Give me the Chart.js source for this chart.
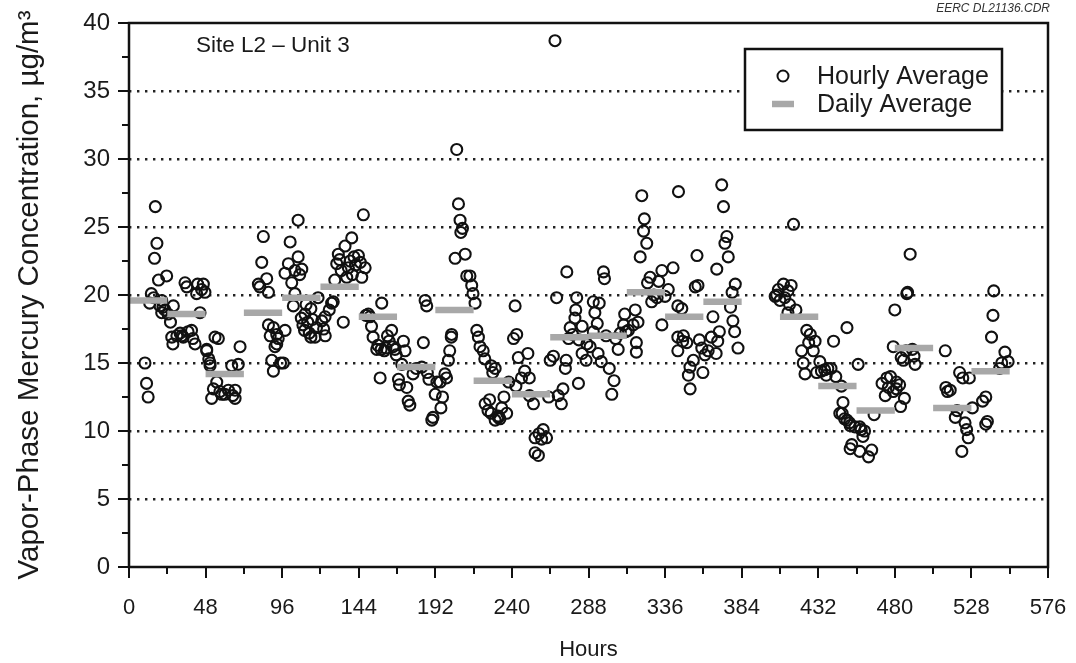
<!DOCTYPE html>
<html>
<head>
<meta charset="utf-8">
<script src="https://cdn.jsdelivr.net/npm/chart.js@4/dist/chart.umd.min.js"></script>
<style>
  html, body { margin: 0; padding: 0; background: #fff; }
  #wrap { width: 1076px; height: 663px; }
</style>
</head>
<body>
<div id="wrap"><canvas id="hgChart" width="1076" height="663"></canvas></div>
<script>
/* vapor-phase Hg, Site L2 - Unit 3: hourly points + daily average bars */

// hourly averages: [hour, µg/m³]
const hourly = [
  [10,15.0],[11,13.5],[12,12.5],[13,19.4],[14,20.1],[15.5,19.8],[16,22.7],[16.5,26.5],[17.5,23.8],[18.5,21.1],[19.5,19.2],[20.5,19.6],[21.3,19.1],[20.5,18.7],[22.5,18.9],[23.6,21.4],[24.5,18.6],[26,18.0],
  [26.8,16.9],[27.5,16.4],[27.8,19.2],[30,17.0],[32,17.2],[33,17.0],[34,16.9],[35.1,20.9],[36.2,20.6],[37,17.3],[39.2,17.4],[40,16.8],[41.4,16.4],[42.4,20.1],[43,20.8],[44.5,18.7],[45.5,20.4],[46.6,20.8],[47.6,20.2],[48.7,16.0],
  [48.7,15.9],[50,15.3],[50.8,15.0],[50.8,14.8],[51.8,12.4],[52.9,13.1],[53.9,16.9],[55,13.6],[56,16.8],[57,12.9],[58.1,12.7],[60,12.7],[62.3,13.0],[64.4,14.8],[65,12.6],[66.5,13.0],[66.5,12.4],[68.5,14.9],[69.6,16.2],
  [81.1,20.8],[82,20.6],[83.2,22.4],[84.2,24.3],[86.3,21.2],[87.4,20.2],[87.4,17.8],[88.5,17.0],[89.5,15.2],[90.5,14.4],[90.5,17.6],[91.5,16.2],[92.6,17.1],[92.6,16.4],[93.5,16.8],[95,15.0],[96.7,15.0],[97.8,17.4],
  [97.8,21.6],[99.9,22.3],[101,23.9],[102,20.9],[103,19.2],[104,21.8],[104,20.1],[106,25.5],[106,22.8],[107,21.5],[108.3,21.9],[108,18.3],[109,17.8],[110.3,18.6],[110,17.4],[111,19.3],[112,18.0],[113,17.2],[114,16.9],[114,19.0],[115,18.2],[116.6,16.9],[117.5,17.6],[118.5,19.8],
  [120.8,18.1],[122,17.5],[122.9,18.4],[123,17.0],[125.5,18.9],[127,19.4],[128,19.5],[129,21.1],[130.2,22.3],[131.2,23.0],[132,22.6],[133,21.8],[134.3,18.0],[135.4,23.6],[136.5,21.3],[137.5,22.0],[138.6,22.5],[139.6,24.2],[140,21.5],[141,22.8],[142,22.2],[143.8,22.9],[145,22.4],[145.9,21.3],[146.9,25.9],[148,22.0],
  [148.5,18.5],[150,18.6],[151,18.4],[152,17.7],[153,16.9],[155.3,16.0],[156,16.3],[157.4,13.9],[158,16.0],[158.4,19.4],[160,15.9],[161,16.1],[162,17.0],[163,16.6],[164.6,17.4],[165.5,16.2],[166.7,16.0],[167.5,15.6],
  [168.9,13.8],[169.5,13.4],[171,14.9],[172,16.6],[173,15.9],[174.1,13.2],[175,12.2],[176,11.9],[178,14.2],[180,14.6],[183.5,14.7],[184.5,16.5],[185.6,19.6],[186.6,19.2],[187,14.3],[188,13.8],[189.8,10.8],[190.5,11.0],[191.9,12.7],
  [193,13.6],[195,13.6],[195.5,11.7],[196.5,12.5],[198,14.2],[199,13.9],[200.2,15.2],[201,15.9],[202,16.9],[202.2,17.1],[204.4,22.7],[205.4,30.7],[206.5,26.7],[207.5,25.5],[208,24.6],[209,24.9],[210.7,23.0],[211.7,21.4],[213.7,21.4],[214.8,20.7],[215.6,20.1],[216.9,19.4],
  [218,17.4],[219,16.9],[220,16.2],[222,15.9],[223,15.3],[223.2,12.0],[225,11.5],[226,12.3],[227,14.8],[227,11.3],[228,14.3],[229.5,10.8],[229.5,14.6],[231.5,11.0],[231.5,11.1],[232.5,10.9],[233.6,11.7],[235,12.5],[236.7,11.3],[238,13.6],
  [241,16.8],[242,19.2],[242.5,13.3],[243,17.1],[244,15.4],[246,13.9],[248,14.4],[250,15.7],[250.9,13.9],[251,12.6],[253.5,12.0],[254.5,9.5],[254.5,8.4],[256.6,8.2],[257,9.8],[258.6,9.4],[259.6,10.1],[261.7,9.5],[263,12.5],
  [264,15.2],[266,15.5],[267,38.7],[268,19.8],[269,12.6],[271,12.0],[272,13.1],[273.5,14.6],[274,15.2],[274.4,21.7],[275.5,16.8],[276.5,17.6],[278,17.1],[279.5,18.3],[280,18.9],[280.6,19.8],[281.7,13.5],[282,16.7],[284,17.7],[284,15.7],[286.5,15.2],[287,16.4],
  [289,16.2],[291,17.3],[291,19.5],[292,18.7],[293.5,17.9],[294,15.7],[294.7,19.4],[296,15.1],[297.4,21.7],[298,21.2],[299,17.0],[301,14.6],[302.6,12.7],[304,13.7],[305,16.8],[306.6,16.0],[308,17.2],[310,17.8],[310.7,18.6],[311.5,17.3],
  [313,17.4],[316,17.8],[317.3,18.9],[318,16.5],[318,15.8],[319,18.0],[320.4,22.8],[321.4,27.3],[322.5,24.7],[323,25.6],[324.5,23.8],[325,20.9],[326.6,21.3],[327.6,19.5],[329,20.0],[331,19.8],[332,21.0],[334,21.8],[334,17.8],[336,19.9],
  [338,20.4],[341,22.0],[344,19.2],[344,16.9],[344,15.9],[344.4,27.6],[346.5,19.0],[347,16.6],[347.5,17.0],[349.6,16.5],[350.6,14.1],[351.6,14.7],[351.7,13.1],[353.7,15.2],[354.9,20.6],[356,22.9],[356.6,20.7],[357.5,16.7],[359,16.1],[359.7,14.3],
  [361,15.6],[363,15.9],[365,16.9],[366,18.4],[368,15.7],[368.4,21.9],[369,16.6],[370,17.3],[371.5,28.1],[372.6,26.5],[373.5,23.8],[374.7,24.3],[375.6,22.8],[377,19.1],[378,20.2],[378.5,18.1],[379.6,17.3],[380,20.8],[381.7,16.1],
  [405,19.9],[406,20.0],[407,20.4],[408,19.6],[410.2,20.8],[411,19.8],[413,20.3],[413,18.7],[414,19.3],[415,20.7],[416.5,25.2],[418,18.9],[421.6,15.9],[422.6,15.0],[423.7,14.2],[424.8,17.4],[426,16.5],[427,17.1],[428.9,15.9],[430,16.6],[431,14.3],
  [433,15.1],[434,14.4],[436,14.5],[437,14.1],[438,14.6],[440,14.6],[441.6,16.6],[443,14.0],[445.5,11.3],[446.5,13.3],[447,11.3],[447.5,12.1],[448.5,10.9],[450,17.6],[450,10.8],[451.6,10.6],[452,8.7],[452,10.4],[453,9.0],[455,10.3],
  [457,14.9],[458,10.3],[458,8.5],[458.9,10.1],[460,9.6],[461,10.0],[463.5,8.1],[465.5,8.6],[467,11.2],[472,13.5],[474,12.6],[475,13.9],[476,13.2],[477.3,14.0],[479,12.9],
  [479,16.2],[480,18.9],[481,13.6],[481,13.1],[483,13.4],[483.6,11.8],[484,15.4],[485.4,15.2],[486,12.4],[487,15.9],[487.5,20.1],[488,20.2],[489.6,23.0],[491,16.0],[492,15.5],[492.7,14.9],
  [511.6,15.9],[512,13.2],[513,12.9],[514.7,13.0],[517.9,11.0],[519,11.5],[520.6,14.3],[522,8.5],[522.6,13.9],[524,10.6],[525,10.1],[526,9.5],[526.7,13.9],[528.6,11.7],
  [535,12.2],[537,12.5],[537,10.5],[538,10.7],[540.6,16.9],[541.5,18.5],[542,20.3],[545.7,14.6],[547,15.0],[549,15.8],[551,15.1]
];

// daily averages: start hour of each 24 h day and its mean
const dayStart = [0, 24, 48, 72, 96, 120, 144, 168, 192, 216, 240, 264, 288, 312, 336, 360, 408, 432, 456, 480, 504, 528];
const dailyAvg = [19.6, 18.6, 14.2, 18.7, 19.8, 20.6, 18.4, 14.7, 18.9, 13.7, 12.7, 16.9, 17.0, 20.2, 18.4, 19.5, 18.4, 13.3, 11.5, 16.1, 11.7, 14.4];

const xMax = 576, xStep = 24, xLabelStep = 48;
const yMax = 40, yStep = 5;

const BAR_GREY = '#a8a8a8';
const INK = '#111';
const FONT = '"Liberation Sans", Arial, sans-serif';

// one flat segment per day, broken by nulls
const dailyLine = [];
dayStart.forEach((h, i) => {
  dailyLine.push({ x: h, y: dailyAvg[i] }, { x: h + 24, y: dailyAvg[i] }, { x: h + 24, y: null });
});

/* ── frame, tick marks, legend box and notes ── */
const decor = {
  id: 'decor',
  afterDraw(chart) {
    const { ctx, chartArea: a, scales: { x, y } } = chart;
    ctx.save();
    ctx.strokeStyle = INK;

    // tick marks (major long, minor short)
    ctx.lineWidth = 2;
    ctx.beginPath();
    for (let v = 0; v <= xMax; v += xStep) {
      const px = Math.round(x.getPixelForValue(v));
      const len = v % xLabelStep === 0 ? 11 : 7;
      ctx.moveTo(px, a.bottom); ctx.lineTo(px, a.bottom + len);
    }
    for (let v = 0; v <= yMax; v += yStep / 2) {
      const py = Math.round(y.getPixelForValue(v));
      const len = v % yStep === 0 ? 11 : 7;
      ctx.moveTo(a.left, py); ctx.lineTo(a.left - len, py);
    }
    ctx.stroke();

    // plot frame
    ctx.lineWidth = 2.5;
    ctx.strokeRect(a.left, a.top, a.right - a.left, a.bottom - a.top);

    // legend
    const lx = 745, ly = 49, lw = 257, lh = 81;
    ctx.fillStyle = '#fff';
    ctx.fillRect(lx, ly, lw, lh);
    ctx.lineWidth = 2.5;
    ctx.strokeRect(lx, ly, lw, lh);
    ctx.lineWidth = 2;
    ctx.beginPath();
    ctx.arc(783, 76, 5.5, 0, Math.PI * 2);
    ctx.stroke();
    ctx.strokeStyle = BAR_GREY;
    ctx.lineWidth = 6.5;
    ctx.beginPath();
    ctx.moveTo(772, 104); ctx.lineTo(794, 104);
    ctx.stroke();
    ctx.fillStyle = '#1a1a1a';
    ctx.font = '25px ' + FONT;
    ctx.textBaseline = 'middle';
    ctx.textAlign = 'left';
    ctx.fillText('Hourly Average', 817, 77);
    ctx.fillText('Daily Average', 817, 105);

    // site label
    ctx.font = '22.5px ' + FONT;
    ctx.fillText('Site L2 \u2013 Unit 3', 196, 46);

    // drawing id
    ctx.font = 'italic 12px ' + FONT;
    ctx.textAlign = 'right';
    ctx.fillStyle = '#333';
    ctx.fillText('EERC DL21136.CDR', 1050, 9);
    ctx.restore();
  }
};

new Chart(document.getElementById('hgChart'), {
  type: 'scatter',
  data: {
    datasets: [
      {
        label: 'Daily Average',
        type: 'line',
        data: dailyLine,
        borderColor: BAR_GREY,
        borderWidth: 6.5,
        borderCapStyle: 'butt',
        pointRadius: 0,
        spanGaps: false,
        order: 0
      },
      {
        label: 'Hourly Average',
        data: hourly.map(([h, v]) => ({ x: h, y: v })),
        pointRadius: 5.5,
        pointHoverRadius: 5.5,
        borderColor: INK,
        borderWidth: 2.1,
        backgroundColor: 'rgba(0,0,0,0)',
        order: 1
      }
    ]
  },
  options: {
    responsive: false,
    animation: false,
    layout: { padding: { top: 23, right: 28, bottom: 0, left: 0 } },
    plugins: { legend: { display: false }, tooltip: { enabled: false } },
    scales: {
      x: {
        type: 'linear', min: 0, max: xMax,
        afterFit: s => { s.height = 96; s.paddingLeft = 0; s.paddingRight = 0; },
        grid: { display: false },
        border: { display: false },
        ticks: {
          stepSize: xStep, autoSkip: false, maxRotation: 0, padding: 20,
          color: '#1a1a1a',
          font: { family: FONT, size: 22 },
          callback: v => (v % xLabelStep === 0 ? v : '')
        },
        title: {
          display: true, text: 'Hours', color: '#1a1a1a',
          font: { family: FONT, size: 22 },
          padding: { top: 0, bottom: 0 }
        }
      },
      y: {
        min: 0, max: yMax,
        afterFit: s => { s.width = 129; s.paddingTop = 0; s.paddingBottom = 0; },
        grid: {
          drawTicks: false,
          lineWidth: 2.4,
          color: c => (c.tick.value === 0 || c.tick.value === yMax ? 'rgba(0,0,0,0)' : '#222')
        },
        border: { display: false, dash: [2.4, 5.6] },
        ticks: {
          stepSize: yStep, padding: 19, color: '#1a1a1a',
          font: { family: FONT, size: 24 }
        },
        title: {
          display: true, text: 'Vapor-Phase Mercury Concentration, \u00b5g/m\u00b3',
          color: '#1a1a1a',
          font: { family: FONT, size: 29.5 },
          padding: { top: 12, bottom: 0 }
        }
      }
    }
  },
  plugins: [decor]
});
</script>
</body>
</html>
